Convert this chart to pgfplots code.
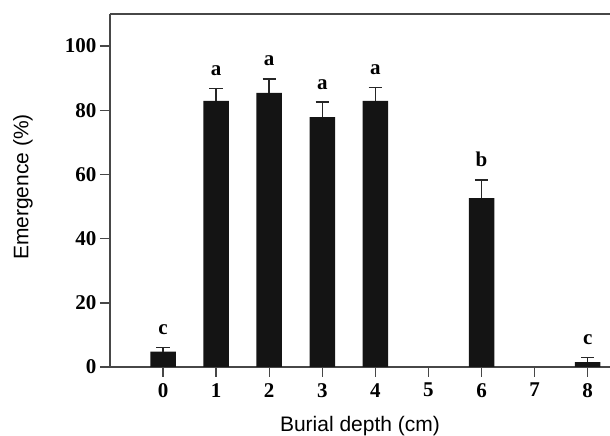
\documentclass[border=0pt]{standalone}
\usepackage{fontspec}
\setmainfont{Liberation Serif}
\newfontfamily\arialfont{Liberation Sans}
\usepackage{pgfplots}
\pgfplotsset{compat=1.18}
\begin{document}
\begin{tikzpicture}
\begin{axis}[
 name=ax, scale only axis, width=500pt, height=353pt,
 xmin=-1, xmax=8.42, ymin=0, ymax=110,
 axis lines=left, axis line style={-, line width=1.4pt, black!72},
 xtick={0,...,8}, ytick={0,20,40,60,80,100},
 tick align=outside, major tick length=10pt,
 tick style={line width=1.4pt, black!72},
 ticklabel style={font=\fontsize{21}{23}\selectfont\bfseries, inner sep=0pt},
 /pgf/number format/assume math mode=true,
 yticklabel style={xshift=-3.5pt}, xticklabel style={yshift=-6pt},
 xlabel={Burial depth (cm)}, ylabel={Emergence (\%)},
 label style={font=\arialfont\fontsize{21}{24}\selectfont},
 xlabel style={at={(axis description cs:0.5,-0.183)}, anchor=base},
 ylabel style={at={(axis description cs:-0.174,0.51)}, anchor=center},
 extra description/.code={\draw[line width=1.4pt, black!72] (axis description cs:0,1) -- (axis description cs:1,1);},
 clip=false,
]
\addplot[ybar, bar width=0.48, fill=black!92, draw=none,
  error bars/.cd, y dir=plus, y explicit, error mark=|,
  error bar style={line width=1.5pt, black!85},
  error mark options={line width=1.5pt, mark size=6.7pt, black!85}]
coordinates {(0,4.8) +- (0,1.3) (1,82.9) +- (0,3.9) (2,85.4) +- (0,4.4) (3,77.9) +- (0,4.6) (4,82.9) +- (0,4.2) (6,52.6) +- (0,5.7) (8,1.5) +- (0,1.5)};
\addplot[draw=none, mark=none, nodes near coords, point meta=explicit symbolic,
  nodes near coords style={font=\fontsize{21}{23}\selectfont\bfseries, anchor=base, inner sep=0pt, yshift=13pt}]
coordinates {(0,6.1)[c] (1,86.8)[a] (2,89.8)[a] (3,82.5)[a] (4,87.1)[a] (6,58.3)[b] (8,3.0)[c]};
\end{axis}
\pgfresetboundingbox
\path[use as bounding box] ([xshift=-110pt,yshift=-69pt]ax.south west) rectangle ([yshift=14pt]ax.north east);
\end{tikzpicture}
\end{document}
